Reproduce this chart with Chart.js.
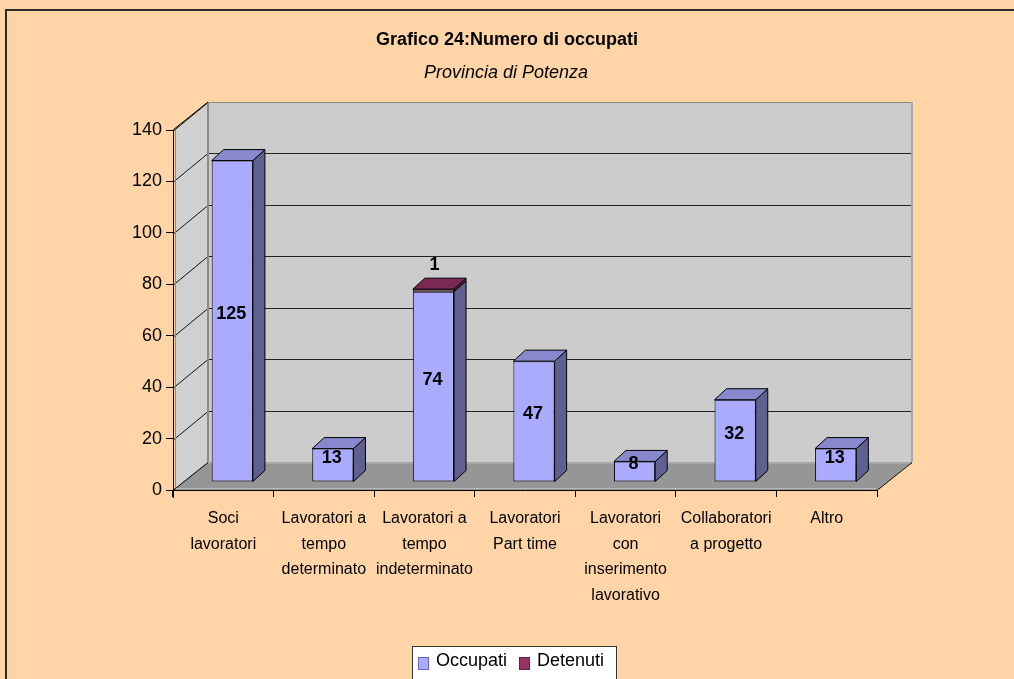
<!DOCTYPE html>
<html>
<head>
<meta charset="utf-8">
<script src="https://cdn.jsdelivr.net/npm/chart.js@4/dist/chart.umd.min.js"></script>
<style>
html,body{margin:0;padding:0;background:#FFD5A8;}
#c{display:block;}
</style>
</head>
<body>
<canvas id="c" width="1014" height="679"></canvas>
<script>
const titleText = "Grafico 24:Numero di occupati";
const subtitleText = "Provincia di Potenza";
const categories = [
  ["Soci", "lavoratori"],
  ["Lavoratori a", "tempo", "determinato"],
  ["Lavoratori a", "tempo", "indeterminato"],
  ["Lavoratori", "Part time"],
  ["Lavoratori", "con", "inserimento", "lavorativo"],
  ["Collaboratori", "a progetto"],
  ["Altro"]
];
const seriesNames = ["Occupati", "Detenuti"];
const occupati = [125, 13, 74, 47, 8, 32, 13];
const detenuti = [0, 0, 1, 0, 0, 0, 0];
const yMin = 0, yMax = 140, yStep = 20;

const FONT = "'Liberation Sans', Arial, sans-serif";
const PEACH = '#FFD5A8';
// 3D geometry (pixels)
const BX = 9, BY = -8;     // bar plane offset from front plane
const DX = 12, DY = -11;   // bar depth
const WX = 35, WY = -28;   // wall depth
const faceColors = [
  {front: '#AAAAFF', side: '#606090', top: '#8888CC'},
  {front: '#993366', side: '#5E1F40', top: '#7A2952'}
];

const threeD = {
  id: 'threeD',
  beforeDraw(chart) {
    const ctx = chart.ctx, a = chart.chartArea, ys = chart.scales.y;
    const L = a.left, R = a.right;
    const y0 = ys.getPixelForValue(yMin), yT = ys.getPixelForValue(yMax);
    ctx.save();
    ctx.fillStyle = PEACH;
    ctx.fillRect(0, 0, chart.width, chart.height);
    // outer border (top + left)
    ctx.strokeStyle = '#2a2a2a';
    ctx.lineWidth = 2;
    ctx.beginPath();
    ctx.moveTo(6, chart.height); ctx.lineTo(6, 10); ctx.lineTo(chart.width, 10);
    ctx.stroke();
    // titles
    ctx.fillStyle = '#000';
    ctx.textAlign = 'center';
    ctx.textBaseline = 'middle';
    ctx.font = 'bold 18px ' + FONT;
    ctx.fillText(titleText, 507, 40);
    ctx.font = 'italic 18px ' + FONT;
    ctx.fillText(subtitleText, 506, 73);

    // left wall
    ctx.fillStyle = '#D0D0D0';
    ctx.beginPath();
    ctx.moveTo(L + 2, yT); ctx.lineTo(L + WX, yT + WY); ctx.lineTo(L + WX, y0 + WY); ctx.lineTo(L + 2, y0);
    ctx.closePath(); ctx.fill();
    // back wall
    ctx.fillStyle = '#CCCCCC';
    ctx.fillRect(L + WX, yT + WY, R - L, y0 - yT);
    // floor
    ctx.fillStyle = '#969696';
    ctx.beginPath();
    ctx.moveTo(L, y0); ctx.lineTo(R, y0); ctx.lineTo(R + WX, y0 + WY); ctx.lineTo(L + WX, y0 + WY);
    ctx.closePath(); ctx.fill();
    ctx.strokeStyle = '#A6A6A6'; ctx.lineWidth = 2;
    ctx.beginPath(); ctx.moveTo(L + WX, y0 + WY + 1); ctx.lineTo(R + WX, y0 + WY + 1); ctx.stroke();

    // gridlines
    ctx.lineWidth = 1;
    ys.ticks.forEach(t => {
      if (t.value === yMin) return;
      const y = Math.round(ys.getPixelForValue(t.value)) + 0.5;
      ctx.strokeStyle = t.value === yMax ? '#8a8a8a' : '#222';
      ctx.beginPath();
      ctx.moveTo(L + WX, y + WY); ctx.lineTo(R + WX, y + WY);
      ctx.stroke();
      ctx.strokeStyle = '#111';
      ctx.beginPath();
      ctx.moveTo(L + 1, y); ctx.lineTo(L + WX, y + WY);
      ctx.stroke();
    });
    // wall edges
    ctx.strokeStyle = '#8a8a8a'; ctx.lineWidth = 2;
    ctx.beginPath(); ctx.moveTo(L + WX, yT + WY); ctx.lineTo(L + WX, y0 + WY); ctx.stroke();
    ctx.strokeStyle = '#A8A8A8';
    ctx.beginPath(); ctx.moveTo(R + WX, yT + WY); ctx.lineTo(R + WX, y0 + WY); ctx.stroke();
    ctx.strokeStyle = '#8a8a8a'; ctx.lineWidth = 1;
    ctx.beginPath(); ctx.moveTo(L + 2.5, yT); ctx.lineTo(L + 2.5, y0); ctx.stroke();
    // floor edges
    ctx.strokeStyle = '#000'; ctx.lineWidth = 1;
    ctx.beginPath();
    ctx.moveTo(L, y0 + 0.5); ctx.lineTo(L + WX, y0 + WY + 0.5);
    ctx.moveTo(R, y0 + 0.5); ctx.lineTo(R + WX, y0 + WY + 0.5);
    ctx.moveTo(L, yT); ctx.lineTo(L + WX, yT + WY);
    ctx.stroke();
    ctx.strokeStyle = '#B8B8B8';
    ctx.beginPath(); ctx.moveTo(L + 3, y0 - 1.5); ctx.lineTo(R - 1, y0 - 1.5); ctx.stroke();
    ctx.restore();
  },
  afterDraw(chart) {
    const ctx = chart.ctx, a = chart.chartArea, ys = chart.scales.y;
    const y0 = ys.getPixelForValue(yMin);
    ctx.save();
    ctx.strokeStyle = '#000'; ctx.lineWidth = 1;
    ctx.beginPath();
    ctx.moveTo(a.left + 0.5, y0); ctx.lineTo(a.left + 0.5, y0 + 8);
    ctx.stroke();
    ctx.restore();
  },
  beforeDatasetsDraw(chart) {
    chart.ctx.save();
    chart.ctx.translate(BX, BY);
  },
  afterDatasetsDraw(chart) {
    const ctx = chart.ctx;
    const dsets = chart.data.datasets;
    ctx.lineWidth = 1;
    ctx.strokeStyle = '#000';
    dsets.forEach((ds, di) => {
      const meta = chart.getDatasetMeta(di);
      meta.data.forEach((el, i) => {
        const v = ds.data[i];
        if (!v) return;
        const x0 = el.x - el.width / 2, x1 = el.x + el.width / 2;
        const top = el.y, base = el.base;
        const c = faceColors[di];
        ctx.fillStyle = c.side;
        ctx.beginPath();
        ctx.moveTo(x1, top); ctx.lineTo(x1 + DX, top + DY); ctx.lineTo(x1 + DX, base + DY); ctx.lineTo(x1, base);
        ctx.closePath(); ctx.fill(); ctx.stroke();
        let topmost = true;
        for (let k = di + 1; k < dsets.length; k++) if (dsets[k].data[i]) topmost = false;
        if (topmost) {
          ctx.fillStyle = c.top;
          ctx.beginPath();
          ctx.moveTo(x0, top); ctx.lineTo(x1, top); ctx.lineTo(x1 + DX, top + DY); ctx.lineTo(x0 + DX, top + DY);
          ctx.closePath(); ctx.fill(); ctx.stroke();
        }
      });
    });
    ctx.restore();

    // data labels
    ctx.save();
    ctx.fillStyle = '#000';
    ctx.font = 'bold 18px ' + FONT;
    ctx.textAlign = 'center';
    ctx.textBaseline = 'middle';
    dsets.forEach((ds, di) => {
      const meta = chart.getDatasetMeta(di);
      meta.data.forEach((el, i) => {
        const v = ds.data[i];
        if (!v) return;
        if (di === 0) {
          ctx.fillText(String(v), el.x + BX - 1, (el.y + el.base) / 2 + BY - 7);
        } else {
          ctx.fillText(String(v), el.x + BX + 1, el.y + BY - 24);
        }
      });
    });
    // legend
    ctx.fillStyle = '#FFFFFF';
    ctx.fillRect(412, 646, 205, 40);
    ctx.strokeStyle = '#333';
    ctx.strokeRect(412.5, 646.5, 204, 40);
    const lx = [418, 519];
    ctx.font = '18px ' + FONT;
    ctx.textAlign = 'left';
    dsets.forEach((ds, di) => {
      ctx.fillStyle = ds.backgroundColor;
      ctx.fillRect(lx[di], 657, 11, 13);
      ctx.strokeStyle = di === 0 ? '#6666CC' : '#661F44';
      ctx.strokeRect(lx[di] + 0.5, 657.5, 10, 12);
      ctx.fillStyle = '#000';
      ctx.fillText(ds.label, lx[di] + 18, 661);
    });
    ctx.restore();
  }
};

new Chart(document.getElementById('c'), {
  type: 'bar',
  data: {
    labels: categories,
    datasets: [
      {label: seriesNames[0], data: occupati, backgroundColor: faceColors[0].front, borderColor: '#000', borderWidth: 1, borderSkipped: false, clip: false},
      {label: seriesNames[1], data: detenuti, backgroundColor: faceColors[1].front, borderColor: '#000', borderWidth: 1, borderSkipped: false, clip: false}
    ]
  },
  options: {
    responsive: false,
    animation: false,
    devicePixelRatio: 1,
    layout: {padding: {top: 130, left: 0, right: 137, bottom: 0}},
    datasets: {bar: {categoryPercentage: 1, barPercentage: 0.41}},
    plugins: {legend: {display: false}, title: {display: false}, tooltip: {enabled: false}},
    scales: {
      x: {
        stacked: true,
        grid: {display: true, drawOnChartArea: false, drawTicks: true, tickLength: 7, color: '#000', offset: true},
        border: {display: true, color: '#000'},
        ticks: {font: {family: FONT, size: 16, lineHeight: 1.6}, color: '#000', padding: 9, maxRotation: 0, autoSkip: false},
        afterFit(s) { s.height = 189; }
      },
      y: {
        stacked: true,
        min: yMin, max: yMax,
        grid: {drawOnChartArea: false, drawTicks: true, tickLength: 7, color: '#000'},
        border: {display: true, color: '#000'},
        ticks: {stepSize: yStep, font: {family: FONT, size: 18}, color: '#000', padding: 4},
        afterFit(s) { s.width = 173; }
      }
    }
  },
  plugins: [threeD]
});
</script>
</body>
</html>
